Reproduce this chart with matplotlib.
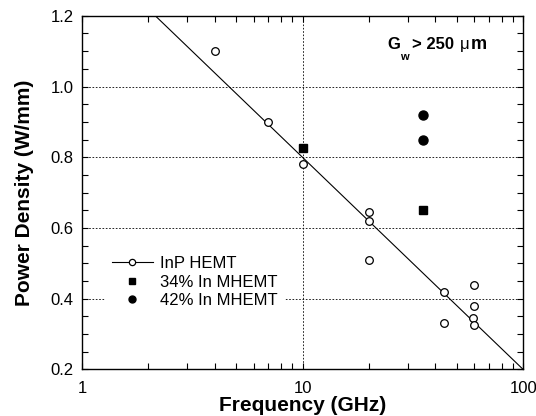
import matplotlib
matplotlib.use("Agg")
import matplotlib.pyplot as plt
from matplotlib.lines import Line2D
from matplotlib.ticker import LogLocator, MultipleLocator, FixedLocator, FixedFormatter

plt.rcParams["font.family"] = ["Liberation Sans", "DejaVu Sans"]

# InP HEMT data (open circles)
inp_freq = [4, 7, 10, 20, 20, 20, 44, 44, 60, 60, 59, 60]
inp_power = [1.10, 0.90, 0.78, 0.645, 0.62, 0.51, 0.42, 0.33, 0.44, 0.38, 0.345, 0.325]
# 34% In MHEMT (filled squares)
m34_freq = [10, 35]
m34_power = [0.825, 0.65]
# 42% In MHEMT (filled circles)
m42_freq = [35, 35]
m42_power = [0.92, 0.85]
# trend line for InP HEMT
fit_freq = [2.15, 100]
fit_power = [1.2, 0.2]

fig = plt.figure(figsize=(5.36, 4.16), dpi=100)
ax = fig.add_axes([0.153, 0.112, 0.823, 0.850])

ax.plot(fit_freq, fit_power, color="black", lw=0.8, zorder=2)
ax.plot(inp_freq, inp_power, "o", ms=5.5, mfc="white", mec="black", mew=0.9, zorder=3)
ax.plot(m34_freq, m34_power, "s", ms=6, color="black", zorder=3)
ax.plot(m42_freq, m42_power, "o", ms=6.5, color="black", zorder=3)

ax.set_xscale("log")
ax.set_xlim(1, 100)
ax.set_ylim(0.2, 1.2)
ax.xaxis.set_major_locator(FixedLocator([1, 10, 100]))
ax.xaxis.set_major_formatter(FixedFormatter(["1", "10", "100"]))
ax.xaxis.set_minor_locator(LogLocator(base=10, subs=range(2, 10)))
ax.xaxis.set_minor_formatter(FixedFormatter([]))
ax.yaxis.set_major_locator(MultipleLocator(0.2))
ax.yaxis.set_minor_locator(MultipleLocator(0.05))
ax.yaxis.set_major_formatter(matplotlib.ticker.FormatStrFormatter("%.1f"))

ax.tick_params(which="both", direction="in", top=True, right=True, length=4, width=0.8)
ax.tick_params(axis="y", labelsize=12, pad=6)
ax.tick_params(axis="x", labelsize=12, pad=8)
for s in ax.spines.values():
    s.set_linewidth(1.0)

ax.grid(True, which="major", ls=(0, (2, 2)), color="black", lw=0.6)
ax.set_axisbelow(True)

ax.set_xlabel("Frequency (GHz)", fontsize=15, fontweight="bold", labelpad=0)
ax.set_ylabel("Power Density (W/mm)", fontsize=15, fontweight="bold", labelpad=12)

handles = [
    Line2D([], [], color="black", lw=0.8, marker="o", ms=4.5, mfc="white", mec="black", mew=0.9),
    Line2D([], [], ls="none", marker="s", ms=5, color="black"),
    Line2D([], [], ls="none", marker="o", ms=5, color="black"),
]
labels = ["InP HEMT", "34% In MHEMT", "42% In MHEMT"]
leg = ax.legend(handles, labels, loc="center left", bbox_to_anchor=(0.052, 0.247),
                fontsize=12, frameon=True, fancybox=False, edgecolor="white",
                framealpha=1, borderpad=0.4, borderaxespad=0, handlelength=2.5,
                handletextpad=0.4, labelspacing=0.2)

ax.text(0.692, 0.907, "G", transform=ax.transAxes, fontsize=12, fontweight="bold")
ax.text(0.721, 0.874, "w", transform=ax.transAxes, fontsize=8, fontweight="bold")
ax.text(0.748, 0.907, "> 250", transform=ax.transAxes, fontsize=12, fontweight="bold")
ax.text(0.857, 0.907, "\u03bc", transform=ax.transAxes, fontsize=12)
ax.text(0.881, 0.907, "m", transform=ax.transAxes, fontsize=13, fontweight="bold")

fig.savefig("out.png", dpi=100)
